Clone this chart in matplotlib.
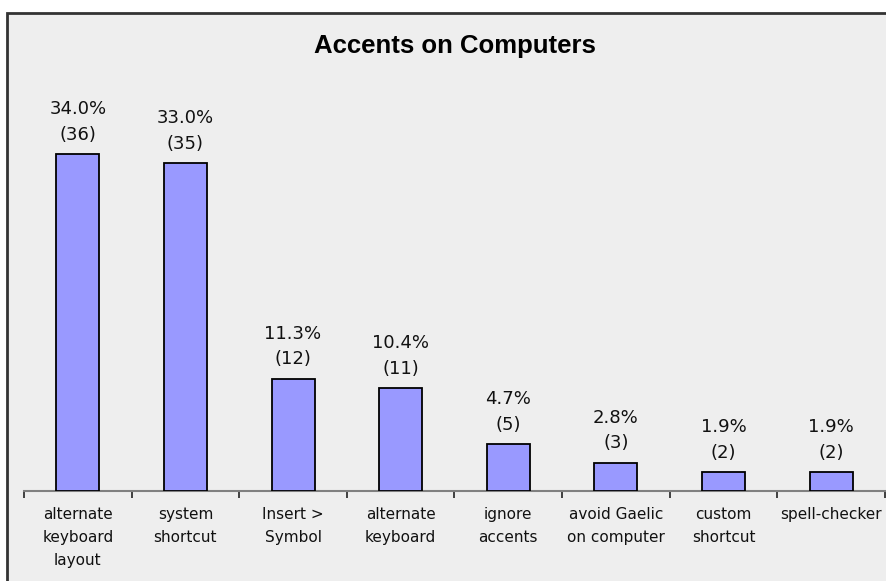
import matplotlib
matplotlib.use("Agg")
import matplotlib.pyplot as plt
from matplotlib.patches import Rectangle

# Survey responses: how people type accented characters
categories = [
    "alternate\nkeyboard\nlayout",
    "system\nshortcut",
    "Insert >\nSymbol",
    "alternate\nkeyboard",
    "ignore\naccents",
    "avoid Gaelic\non computer",
    "custom\nshortcut",
    "spell-checker",
]
counts = [36, 35, 12, 11, 5, 3, 2, 2]
total = sum(counts)
title = "Accents on Computers"

W, H = 887, 581
fig = plt.figure(figsize=(W / 100, H / 100), dpi=100)
fig.patch.set_facecolor("white")

# Chart area panel with a dark border (left and top edges visible)
bg = fig.add_axes([0, 0, 1, 1], zorder=-5)
bg.set_axis_off()
bg.set_xlim(0, W)
bg.set_ylim(H, 0)
bg.add_patch(Rectangle((7, 13), W + 20, H + 20, facecolor="#EEEEEE",
                       edgecolor="#333333", linewidth=2))

ymax = 40
px_per_unit = 337 / 36
ax_left, ax_right = 24, 885
ax_bottom = 491
ax_top = ax_bottom - ymax * px_per_unit
ax = fig.add_axes([ax_left / W, (H - ax_bottom) / H,
                   (ax_right - ax_left) / W, (ax_bottom - ax_top) / H],
                  zorder=1)
ax.set_facecolor("none")

x = list(range(len(categories)))
bars = ax.bar(x, counts, width=0.4, color="#9999FF", edgecolor="black",
              linewidth=1.3, zorder=3)

for xi, c in zip(x, counts):
    ax.annotate(f"{100 * c / total:.1f}%\n({c})", xy=(xi, c),
                xytext=(0, 7.5), textcoords="offset points",
                ha="center", va="bottom", fontsize=13, linespacing=1.55,
                family="DejaVu Sans", color="#111111")

ax.set_xlim(-0.5, len(categories) - 0.5)
ax.set_ylim(0, ymax)

for s in ["left", "right", "top"]:
    ax.spines[s].set_visible(False)
ax.spines["bottom"].set_color("#808080")
ax.spines["bottom"].set_linewidth(1.5)
ax.set_yticks([])

# Tick marks sit on category boundaries; labels centred under bars
ax.set_xticks([i - 0.5 for i in range(len(categories) + 1)])
ax.set_xticklabels([])
ax.tick_params(axis="x", which="major", length=5, width=1.2,
               color="#222222", direction="out")
ax.set_xticks(x, minor=True)
ax.set_xticklabels(categories, minor=True, fontsize=11,
                   family="DejaVu Sans", linespacing=1.68, color="#111111")
ax.tick_params(axis="x", which="minor", length=0, pad=11.5)

fig.text(454.5 / W, 1 - 45.5 / H, title, ha="center", va="center",
         fontsize=18.5, fontweight="bold", family="Liberation Sans")

fig.savefig("out.png", dpi=100, facecolor=fig.get_facecolor())
